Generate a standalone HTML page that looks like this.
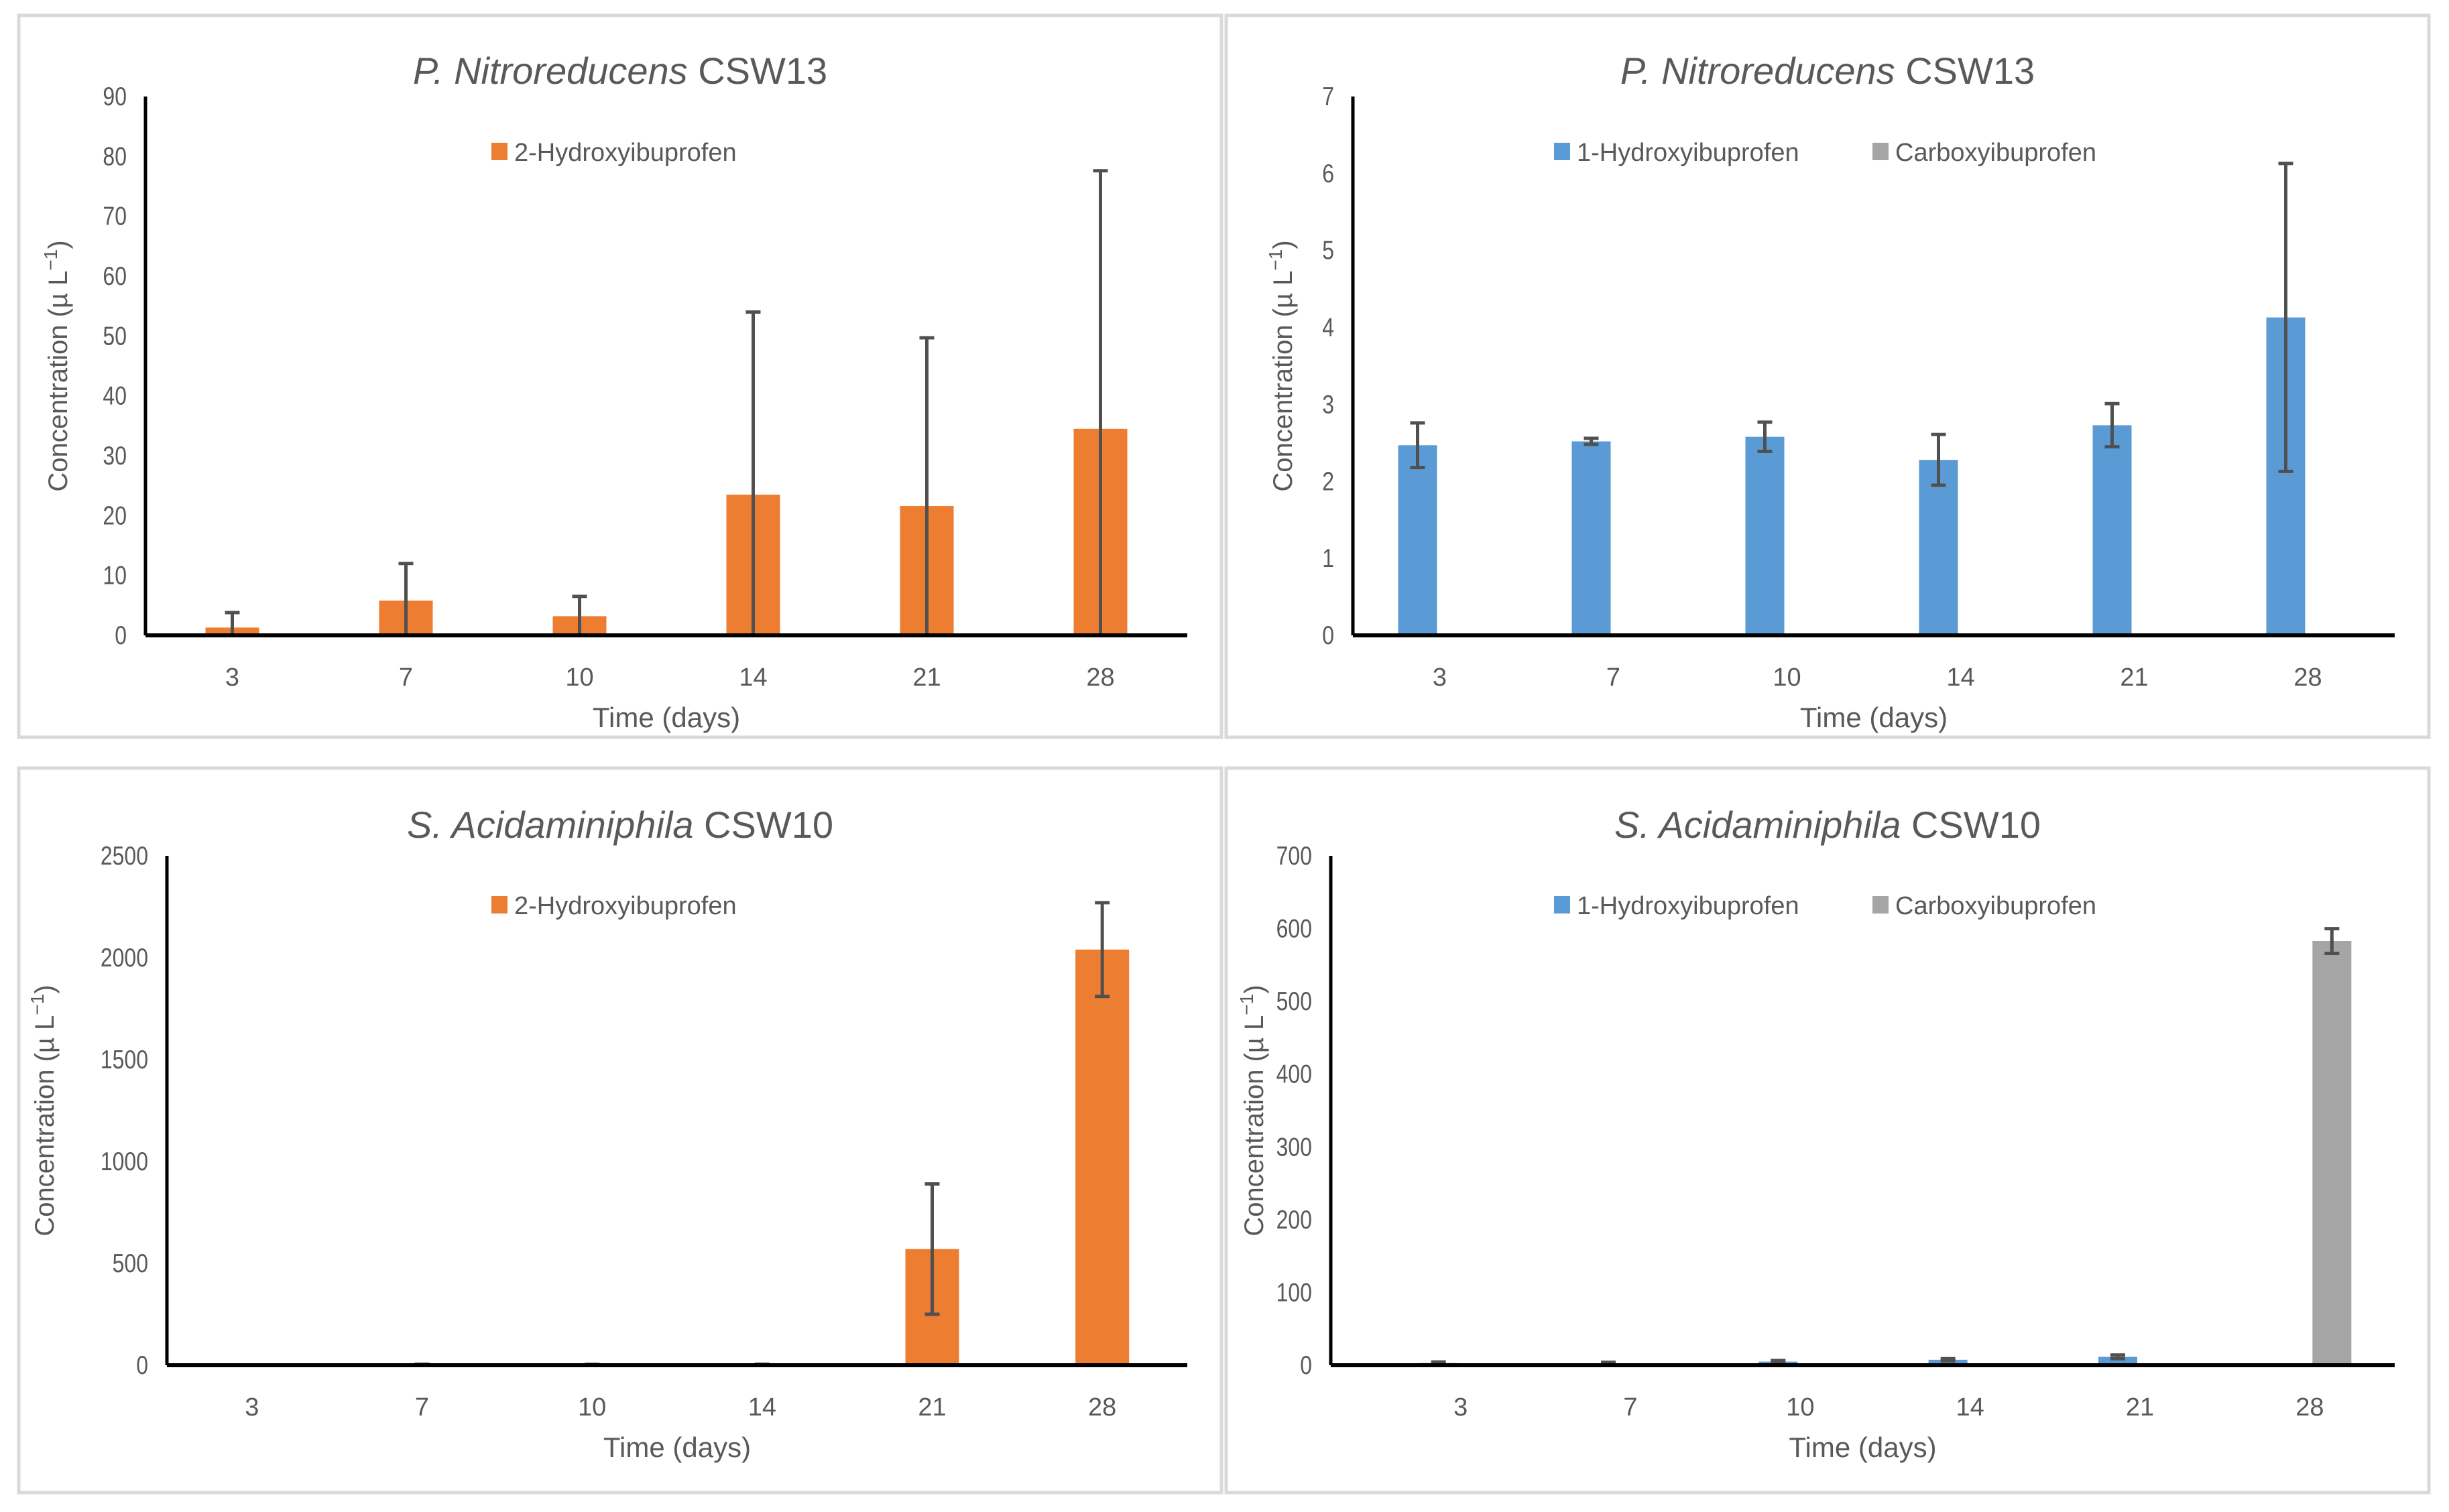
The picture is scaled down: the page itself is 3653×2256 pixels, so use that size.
<!DOCTYPE html>
<html><head><meta charset="utf-8"><style>
html,body{margin:0;padding:0;background:#fff;}
svg{display:block;font-family:"Liberation Sans",sans-serif;}
</style></head><body>
<svg id="fig" width="3653" height="2256" viewBox="0 0 3653 2256" xmlns="http://www.w3.org/2000/svg"></svg>
<script>
const categories = ["3","7","10","14","21","28"];
// Chart A: P. Nitroreducens 2-Hydroxyibuprofen
const aVals = [1.3, 5.8, 3.2, 23.5, 21.6, 34.5];
const aErr = [2.5, 6.2, 3.3, 30.5, 28.1, 43.1];
const aTicks = [0,10,20,30,40,50,60,70,80,90];
// Chart B: P. Nitroreducens 1-OH / Carboxy
const bVals1 = [2.47, 2.52, 2.58, 2.28, 2.73, 4.13];
const bErr1 = [0.29, 0.04, 0.19, 0.33, 0.28, 2.0];
const bVals2 = [0,0,0,0,0,0];
const bTicks = [0,1,2,3,4,5,6,7];
// Chart C: S. Acidaminiphila 2-Hydroxyibuprofen
const cVals = [0, 3, 2, 3, 570, 2040];
const cErr = [0, 2, 2, 2, 320, 230];
const cTicks = [0,500,1000,1500,2000,2500];
// Chart D: S. Acidaminiphila 1-OH / Carboxy
const dVals1 = [3, 2.5, 5, 7.5, 11.5, 0];
const dErr1 = [1.5, 1.5, 1.5, 1.5, 2.5, 0];
const dVals2 = [0, 0, 0, 0, 0, 583];
const dErr2 = [0, 0, 0, 0, 0, 17];
const dTicks = [0,100,200,300,400,500,600,700];

const NS="http://www.w3.org/2000/svg";
const svg=document.getElementById('fig');
function mk(tag,attrs,parent,text){const e=document.createElementNS(NS,tag);for(const k in attrs)e.setAttribute(k,attrs[k]);if(text!==undefined)e.textContent=text;(parent||svg).appendChild(e);return e;}

function chart(o){
  const g=mk('g',{});
  
  
  const fr=mk('rect',{x:o.fx,y:o.fy,width:o.fw,height:o.fh,fill:'#fff',stroke:'#d9d9d9','stroke-width':5},g);
  
  
  const x0=o.ax, x1=o.axEnd, y0=o.zeroY, yTop=o.topY;
  const max=o.ticks[o.ticks.length-1];
  const ys=v=>y0-(v/max)*(y0-yTop);
  const pStart=o.plotStart||x0;
  const step=(x1-pStart)/categories.length;
  const xc=i=>pStart+step*(i+0.5);
  const t=mk('text',{x:(o.fx+o.fw/2),y:o.titleY,'text-anchor':'middle','font-size':56,fill:'#595959'},g);
  
  
  mk('tspan',{'font-style':'italic'},t,o.titleI);
  mk('tspan',{},t,' '+o.titleR);
  o.ticks.forEach(v=>{
    const tx=x0-28, ty=ys(v)+13;
    const tl=mk('text',{x:0,y:0,transform:`translate(${tx},${ty}) scale(0.82,1)`,'text-anchor':'end','font-size':39,fill:'#595959'},g,String(v));
    
    
  });
  const yt=mk('text',{transform:`translate(${o.yTitleX},${(y0+yTop)/2}) rotate(-90)`,'text-anchor':'middle','font-size':40,fill:'#595959'},g);
  
  
  yt.textContent='Concentration (µ L';
  mk('tspan',{'baseline-shift':'super','font-size':28},yt,'−1');
  mk('tspan',{},yt,')');
  categories.forEach((c,i)=>{
    const xl=mk('text',{x:xc(i),y:y0+75,'text-anchor':'middle','font-size':38,fill:'#595959'},g,c);
    
    
  });
  const xt=mk('text',{x:(x0+x1)/2,y:y0+137,'text-anchor':'middle','font-size':42,fill:'#595959'},g,'Time (days)');
  
  
  o.series.forEach((s,si)=>{
    s.vals.forEach((v,i)=>{
      const cx=xc(i)+s.off;
      const top=ys(v);
      const r=mk('rect',{x:cx-o.bw/2,y:top,width:o.bw,height:y0-top,fill:s.color},g);
      
      
      if(s.err && s.err[i]>0){
        const hi=ys(v+s.err[i]);
        const lov=v-s.err[i];
        const lo=ys(Math.max(0,lov));
        const el=mk('line',{x1:cx,x2:cx,y1:hi,y2:lo,stroke:'#505050','stroke-width':5},g);
        
        
        mk('line',{x1:cx-11,x2:cx+11,y1:hi,y2:hi,stroke:'#505050','stroke-width':5},g);
        if(lov>=0) mk('line',{x1:cx-11,x2:cx+11,y1:lo,y2:lo,stroke:'#505050','stroke-width':5},g);
      }
    });
  });
  const ya=mk('line',{x1:x0,x2:x0,y1:yTop,y2:y0,stroke:'#000','stroke-width':5},g);
  
  
  const xa=mk('line',{x1:x0,x2:x1,y1:y0,y2:y0,stroke:'#000','stroke-width':6},g);
  
  
  o.legend.forEach(l=>{
    const lg=mk('g',{},g);
    
    
    mk('rect',{x:l.x,y:o.legY-13,width:24,height:26,fill:l.color},lg);
    mk('text',{x:l.x+34,y:o.legY+14,'font-size':38,fill:'#595959'},lg,l.label);
  });
}

const OR='#ed7d31', BL='#5b9bd5', GR='#a5a5a5';
chart({name:'chart-p-nitroreducens-2oh',fx:28,fy:23,fw:1794,fh:1077,titleI:'P. Nitroreducens',titleR:'CSW13',titleY:125,
  ax:217,axEnd:1771,zeroY:948,topY:144,ticks:aTicks,yTitleX:100,bw:80,legY:226,
  series:[{key:'2-hydroxyibuprofen',vals:aVals,err:aErr,color:OR,off:0}],
  legend:[{x:733,color:OR,label:'2-Hydroxyibuprofen'}]});
chart({name:'chart-p-nitroreducens-1oh-carboxy',fx:1829,fy:23,fw:1794,fh:1077,titleI:'P. Nitroreducens',titleR:'CSW13',titleY:125,
  ax:2018,axEnd:3572,zeroY:948,topY:144,ticks:bTicks,yTitleX:1927,bw:58,legY:226,
  series:[{key:'1-hydroxyibuprofen',vals:bVals1,err:bErr1,color:BL,off:-33},{key:'carboxyibuprofen',vals:bVals2,color:GR,off:33}],
  legend:[{x:2318,color:BL,label:'1-Hydroxyibuprofen'},{x:2793,color:GR,label:'Carboxyibuprofen'}]});
chart({name:'chart-s-acidaminiphila-2oh',fx:28,fy:1146,fw:1794,fh:1081,titleI:'S. Acidaminiphila',titleR:'CSW10',titleY:1250,
  ax:249,axEnd:1771,zeroY:2037,topY:1277,ticks:cTicks,yTitleX:80,bw:80,legY:1350,
  series:[{key:'2-hydroxyibuprofen',vals:cVals,err:cErr,color:OR,off:0}],
  legend:[{x:733,color:OR,label:'2-Hydroxyibuprofen'}]});
chart({name:'chart-s-acidaminiphila-1oh-carboxy',fx:1829,fy:1146,fw:1794,fh:1081,titleI:'S. Acidaminiphila',titleR:'CSW10',titleY:1250,
  ax:1985,axEnd:3572,plotStart:2052,zeroY:2037,topY:1277,ticks:dTicks,yTitleX:1884,bw:58,legY:1350,
  series:[{key:'1-hydroxyibuprofen',vals:dVals1,err:dErr1,color:BL,off:-33},{key:'carboxyibuprofen',vals:dVals2,err:dErr2,color:GR,off:33}],
  legend:[{x:2318,color:BL,label:'1-Hydroxyibuprofen'},{x:2793,color:GR,label:'Carboxyibuprofen'}]});
</script>
</body></html>
